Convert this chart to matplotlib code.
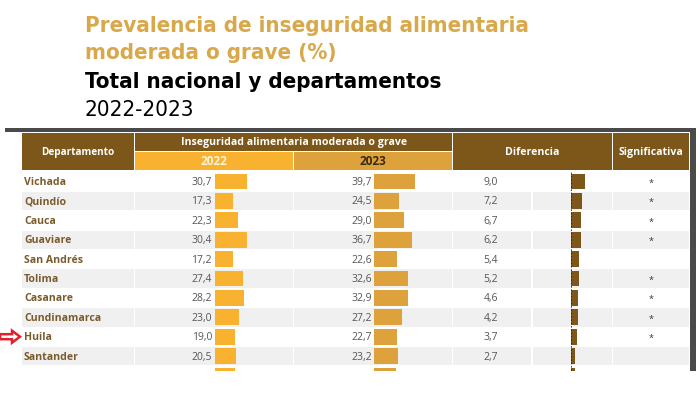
import matplotlib
matplotlib.use("Agg")
import matplotlib.pyplot as plt
from matplotlib.patches import Rectangle, FancyArrow

# data (last row is cut off at the bottom of the picture)
departamentos = ["Vichada", "Quindío", "Cauca", "Guaviare", "San Andrés", "Tolima",
                 "Casanare", "Cundinamarca", "Huila", "Santander", ""]
val_2022 = [30.7, 17.3, 22.3, 30.4, 17.2, 27.4, 28.2, 23.0, 19.0, 20.5, 19.2]
val_2023 = [39.7, 24.5, 29.0, 36.7, 22.6, 32.6, 32.9, 27.2, 22.7, 23.2, 21.5]
diferencia = [9.0, 7.2, 6.7, 6.2, 5.4, 5.2, 4.6, 4.2, 3.7, 2.7, 2.4]
significativa = ["*", "*", "*", "*", "", "*", "*", "*", "*", "", ""]

W, H = 700, 402
BROWN = "#7d5719"
NAME = "#7a5b2c"
Y22 = "#f8b22f"
Y23 = "#dea23c"
GOLD = "#d9a84a"
SHADE = "#f0f0f0"
VAL = "#555555"

ROW0 = 172.8
ROWH = 19.4
CLIP = 372

fig = plt.figure(figsize=(W / 100, H / 100), dpi=100)
ax = fig.add_axes([0, 0, 1, 1])
ax.set_xlim(0, W)
ax.set_ylim(H, 0)
ax.axis("off")


def px_axes(x0, x1, y0, y1):
    a = fig.add_axes([x0 / W, 1 - y1 / H, (x1 - x0) / W, (y1 - y0) / H])
    a.axis("off")
    return a


def rect(x0, x1, y0, y1, color, **kw):
    ax.add_patch(Rectangle((x0, y0), x1 - x0, y1 - y0, facecolor=color,
                           edgecolor="none", **kw))


# titles
tfont = ["DejaVu Sans"]
for y, s, c, w in [(26, "Prevalencia de inseguridad alimentaria", GOLD, "bold"),
                   (53, "moderada o grave (%)", GOLD, "bold"),
                   (82, "Total nacional y departamentos", "black", "bold"),
                   (110, "2022-2023", "black", "normal")]:
    ax.text(85, y, s, color=c, fontsize=16, fontweight=w, fontstretch="condensed",
            family=tfont, va="center", ha="left")

# frame
rect(5, 694, 129, 132.5, "#4a4a4a")
rect(690, 696, 129, CLIP, "#4a4a4a")

# header cells
hfont = ["Open Sans", "DejaVu Sans"]
rect(22, 134, 134, 171, BROWN)
rect(135, 452, 134, 152, BROWN)
rect(135, 293, 153, 171, Y22)
rect(294, 452, 153, 171, Y23)
rect(453, 612, 134, 171, BROWN)
rect(613, 689, 134, 171, BROWN)
ax.text(78, 153, "Departamento", color="white", fontsize=7.2, fontweight="bold",
        family=hfont, ha="center", va="center")
ax.text(294, 143, "Inseguridad alimentaria moderada o grave", color="white",
        fontsize=7.6, fontweight="bold", family=hfont, ha="center", va="center")
ax.text(214, 162, "2022", color="#fff4dc", fontsize=8.5, fontweight="bold",
        family=hfont, ha="center", va="center")
ax.text(373, 162, "2023", color="#3a2a10", fontsize=8.5, fontweight="bold",
        family=hfont, ha="center", va="center")
ax.text(532, 153, "Diferencia", color="white", fontsize=7.6, fontweight="bold",
        family=hfont, ha="center", va="center")
ax.text(651, 153, "Significativa", color="white", fontsize=7.6, fontweight="bold",
        family=hfont, ha="center", va="center")

# row shading and text
clip_box = Rectangle((0, 0), W, CLIP, transform=ax.transData)
for i, name in enumerate(departamentos):
    top = ROW0 + i * ROWH
    yc = top + ROWH / 2
    if i % 2 == 1:
        for x0, x1 in [(22, 134), (135, 293), (294, 452), (453, 531), (533, 612), (613, 689)]:
            rect(x0, x1, top + 0.5, min(top + ROWH - 0.5, CLIP), SHADE)
    texts = [
        ax.text(24, yc, name, color=NAME, fontsize=7.6, fontweight="bold",
                family=hfont, ha="left", va="center"),
        ax.text(212, yc, f"{val_2022[i]:.1f}".replace(".", ","), color=VAL,
                fontsize=7.5, family=hfont, ha="right", va="center"),
        ax.text(372, yc, f"{val_2023[i]:.1f}".replace(".", ","), color=VAL,
                fontsize=7.5, family=hfont, ha="right", va="center"),
        ax.text(491, yc, f"{diferencia[i]:.1f}".replace(".", ","), color=VAL,
                fontsize=7.5, family=hfont, ha="center", va="center"),
        ax.text(651, yc + 1, significativa[i], color="#333333", fontsize=6.5,
                family=hfont, ha="center", va="center"),
    ]
    for t in texts:
        t.set_clip_path(clip_box)
        if yc > CLIP:
            t.set_visible(False)

# bar columns, each an axes with its own value scale
rows = list(range(len(departamentos)))
ylim = (-0.5 + (CLIP - ROW0) / ROWH, -0.5)

b22 = px_axes(215, 293, ROW0, CLIP)
b22.barh(rows, val_2022, height=0.82, color=Y22)
b22.set_xlim(0, 78 / 1.04)
b22.set_ylim(*ylim)

b23 = px_axes(374, 452, ROW0, CLIP)
b23.barh(rows, val_2023, height=0.82, color=Y23)
b23.set_xlim(0, 78 / 1.03)
b23.set_ylim(*ylim)

bd = px_axes(571, 611, ROW0, CLIP)
bd.barh(rows, diferencia, height=0.82, color=BROWN)
bd.axvline(0, color="#222222", lw=1.2, ls=(0, (1, 1)))
bd.set_xlim(0, 40 / 1.55)
bd.set_ylim(*ylim)

# red arrow pointing at Huila
huila = departamentos.index("Huila")
ya = ROW0 + huila * ROWH + ROWH / 2
ax.add_patch(FancyArrow(0, ya, 12, 0, width=5, head_width=12, head_length=8,
                        length_includes_head=False, facecolor="white",
                        edgecolor="#e0202a", lw=1.8))

fig.savefig("out.png", dpi=100)
